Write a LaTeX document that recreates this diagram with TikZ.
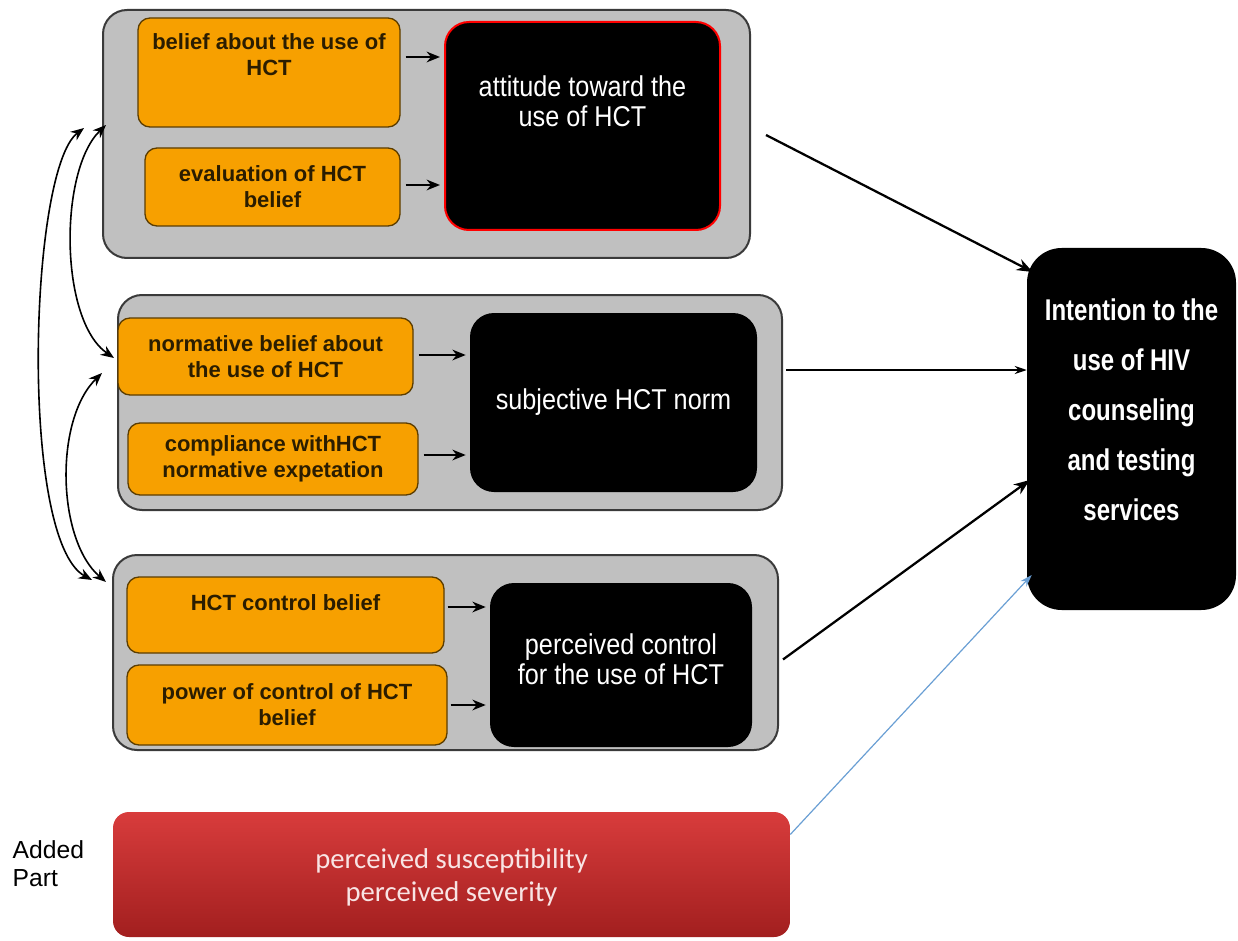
\documentclass[tikz,border=0pt]{standalone}
\usepackage{fontspec}
\setmainfont{Liberation Sans}
\newfontfamily\condfont[FakeStretch=0.88]{Liberation Sans}
\newfontfamily\condbold[FakeStretch=0.8]{Liberation Sans Bold}
\newfontfamily\calfont{Carlito}
\usetikzlibrary{arrows.meta,calc}
\definecolor{grp}{HTML}{C0C0C0}
\definecolor{grpline}{HTML}{3A3A3A}
\definecolor{orng}{HTML}{F7A000}
\definecolor{obline}{HTML}{5C3D00}
\definecolor{otxt}{HTML}{2B1D00}
\definecolor{redtop}{HTML}{D83C3C}
\definecolor{redbot}{HTML}{A21F1F}
\definecolor{bluearr}{HTML}{6A9FD4}
\definecolor{redtxt}{HTML}{F8E4E4}
\begin{document}
\begin{tikzpicture}[x=0.75pt,y=-0.75pt,
  group/.style={draw=grpline, fill=grp, line width=1.5pt, rounded corners=18pt, inner sep=0pt},
  obox/.style={draw=obline, fill=orng, line width=1pt, rounded corners=9pt, inner sep=0pt},
  bbox/.style={fill=black, rounded corners=18pt, inner sep=0pt},
  otext/.style={font=\bfseries\fontsize{16.5}{19.5}\selectfont, text=otxt, align=center},
  btext/.style={font=\condfont\fontsize{21.5}{22.5}\selectfont, text=white, align=center},
  arr/.style={-{Stealth[length=10pt,width=8pt]}, line width=1.6pt},
  bigarr/.style={-{Stealth[length=12pt,width=9pt]}, line width=1.7pt},
  thinarr/.style={-{Stealth[length=9pt,width=6pt]}, line width=0.9pt},
  lr/.style={{Stealth[length=10pt,width=8pt]}-{Stealth[length=10pt,width=8pt]}, line width=1.2pt}]
\useasboundingbox (0,0) rectangle (1238,941);
% top group
\node[group, minimum width=485.25pt, minimum height=186pt] (g1) at (426.5,134) {};
\node[obox, minimum width=196.5pt, minimum height=81.75pt] (ob1) at (269,72.5) {};
\node[otext] (ob1t) at (269,55) {belief about the use of\\HCT};
\node[obox, minimum width=191.25pt, minimum height=58.5pt, otext] (ob2) at (272.5,187) {evaluation of HCT\\belief};
\node[bbox, draw=red, line width=1.5pt, minimum width=206.25pt, minimum height=156pt] (att) at (582.5,126) {};
\node[btext] (attt) at (582.5,101) {attitude toward the\\use of HCT};
% middle group
\node[group, minimum width=498pt, minimum height=161.25pt] (g2) at (450,402.5) {};
\node[obox, minimum width=221.25pt, minimum height=57.75pt, otext] (on1) at (265.5,356.5) {normative belief about\\the use of HCT};
\node[obox, minimum width=217.5pt, minimum height=54pt, otext] (on2) at (273,459) {compliance withHCT\\normative expetation};
\node[bbox, minimum width=215.25pt, minimum height=134.25pt, btext] (sub) at (613.5,402.5) {subjective HCT norm};
% bottom group
\node[group, minimum width=498.75pt, minimum height=146.25pt] (g3) at (445.5,652.5) {};
\node[obox, minimum width=237.75pt, minimum height=57pt] (oc1) at (285.5,615) {};
\node[otext] (oc1t) at (285.5,603) {HCT control belief};
\node[obox, minimum width=240pt, minimum height=60pt, otext] (oc2) at (287,705) {power of control of HCT\\belief};
\node[bbox, minimum width=196.5pt, minimum height=123pt] (per) at (621,665) {};
\node[btext] (pert) at (621,659) {perceived control\\for the use of HCT};
% intention
\node[bbox, rounded corners=26pt, minimum width=156.75pt, minimum height=271.5pt] (int) at (1131.5,429) {};
\node[font=\condbold\fontsize{22.5}{37.5}\selectfont, text=white, align=center] (intt) at (1131.5,410) {Intention to the\\use of HIV\\counseling\\and testing\\services};
% red added part
\node[rounded corners=12pt, top color=redtop, bottom color=redbot, minimum width=507.75pt, minimum height=93.75pt, inner sep=0pt] (red) at (451.5,874.5) {};
\node[font=\calfont\fontsize{21.5}{24.75}\selectfont, text=redtxt, align=center] (redt) at (451.5,877) {perceived susceptibility\\perceived severity};
\node[anchor=west, font=\fontsize{18.5}{21}\selectfont, align=left] (added) at (8,864) {Added\\Part};
% inner arrows
\draw[arr] ($(ob1.east)+(5,-15.5)$) -- ($(att.west|-ob1.east)+(-4,-15.5)$);
\draw[arr] ($(ob2.east)+(5,-2)$) -- ($(att.west|-ob2.east)+(-4,-2)$);
\draw[arr] ($(on1.east)+(5,-1.5)$) -- ($(sub.west|-on1.east)+(-4,-1.5)$);
\draw[arr] ($(on2.east)+(5,-4)$) -- ($(sub.west|-on2.east)+(-4,-4)$);
\draw[arr] ($(oc1.east)+(3,-8)$) -- ($(per.west|-oc1.east)+(-4,-8)$);
\draw[arr] ($(oc2.east)+(3,0)$) -- ($(per.west|-oc2.east)+(-4,0)$);
% to intention
\draw[bigarr] ($(g1.east)+(15,1)$) -- ($(int.west)+(6,-157)$);
\draw[thinarr] ($(g2.east)+(3,-32.5)$) -- ($(int.west)+(0,-59)$);
\draw[bigarr] ($(g3.east)+(4,7)$) -- ($(int.west)+(3,51)$);
\draw[thinarr, draw=bluearr] ($(red.east)+(0,-40)$) -- ($(int.west)+(5,146)$);
% left correlations
\draw[lr] ($(g1.west)+(-18,-6)$) .. controls +(-55,42) and +(-73,-40) .. ($(g3.west)+(-20,-72.5)$);
\draw[lr] ($(g1.west)+(4,-9)$) .. controls +(-47,45) and +(-55,-38) .. ($(g2.west)+(-3,-44.5)$);
\draw[lr] ($(g2.west)+(-15,-29.5)$) .. controls +(-48,47) and +(-49,-42) .. ($(g3.west)+(-6,-70.5)$);
\end{tikzpicture}
\end{document}
